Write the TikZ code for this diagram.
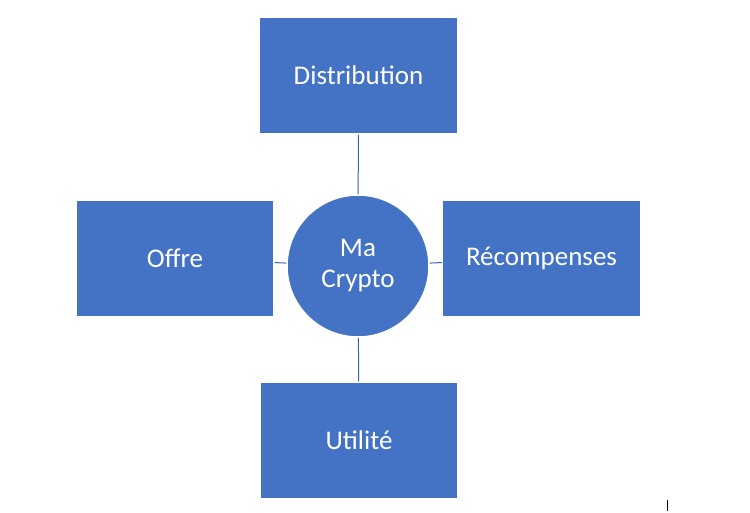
\documentclass[tikz,border=0pt]{standalone}
\usepackage{fontspec}
\setmainfont{Carlito}
\begin{document}
\begin{tikzpicture}[x=1pt,y=-1pt,
 box/.style={fill=blu,draw=white,line width=1.5pt,minimum width=198pt,minimum height=117pt,inner sep=0pt,text=white,font=\fontsize{27}{30}\selectfont},
 circ/.style={circle,fill=blu,draw=white,line width=1.5pt,minimum size=142pt,inner sep=0pt,text=white,align=center,font=\fontsize{27}{31}\selectfont},
 link/.style={draw=blu!85!black,line width=1pt}]
\definecolor{blu}{HTML}{4472C4}
\useasboundingbox (0,0) rectangle (750,512);
\node[circ] (c) at (358,266) {Ma\\Crypto};
\node[box] (d) at (358.5,75.5) {Distribution};
\node[box] (o) at (175,258.5) {Offre};
\node[box] (r) at (541.5,258.5) {Récompenses};
\node[box] (u) at (359,440.5) {Utilité};
\draw[link] (d) -- (c);
\draw[link] (o) -- (c);
\draw[link] (r) -- (c);
\draw[link] (u) -- (c);
\coordinate (m1) at (667,500);
\coordinate (m2) at (667,511);
\draw[line width=0.8pt] (m1) -- (m2);
\end{tikzpicture}
\end{document}
